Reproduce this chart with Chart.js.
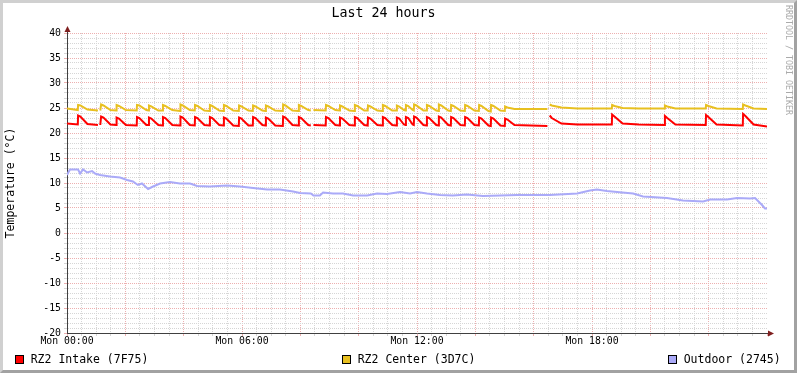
<!DOCTYPE html>
<html>
<head>
<meta charset="utf-8">
<script src="https://cdn.jsdelivr.net/npm/chart.js@4.4.0/dist/chart.umd.min.js"></script>
<style>
html,body{margin:0;padding:0;background:#fff;}
#wrap{position:relative;width:797px;height:373px;overflow:hidden;background:#fff;}
canvas{position:absolute;left:0;top:0;}
#frame{position:absolute;left:0;top:0;width:797px;height:373px;box-sizing:border-box;border-top:3px solid #d0d0d0;border-left:3px solid #d0d0d0;border-right:3px solid #a2a2a2;border-bottom:3px solid #a2a2a2;pointer-events:none;}
.leg{position:absolute;top:352px;font-family:'DejaVu Sans Mono',monospace;font-size:11.5px;line-height:14px;color:#000;white-space:pre;padding-left:15.7px;}
.leg i{position:absolute;left:0;top:3px;width:7px;height:7px;border:1px solid #000;}
#wm{position:absolute;left:783.5px;top:5px;font-family:'DejaVu Sans Mono',monospace;font-size:8.3px;line-height:9px;color:#aaa;writing-mode:vertical-rl;white-space:pre;}
</style>
</head>
<body>
<div id="wrap">
<canvas id="c" width="797" height="373"></canvas>
<div id="frame"></div>
<div class="leg" style="left:15px"><i style="background:#FF0000"></i>RZ2 Intake (7F75)</div>
<div class="leg" style="left:342px"><i style="background:#E8C020"></i>RZ2 Center (3D7C)</div>
<div class="leg" style="left:668px"><i style="background:#AAAAF8"></i>Outdoor (2745)</div>
<div id="wm">RRDTOOL / TOBI OETIKER</div>
</div>
<script>
// ---- data (hours since Mon 00:00) ----
const xTickHours = [0, 6, 12, 18];
const xTickLabels = ['Mon 00:00', 'Mon 06:00', 'Mon 12:00', 'Mon 18:00'];
const yTickLabels = [-20, -15, -10, -5, 0, 5, 10, 15, 20, 25, 30, 35, 40];

const indoorTime = [
0.00,
0.37,0.38,0.46,0.70,
1.06,1.10,1.14,
1.17,1.25,1.49,
1.69,1.70,1.78,2.02,
2.39,2.40,2.48,2.72,
2.80,2.81,2.89,3.13,
3.28,3.29,3.37,3.61,
3.88,3.89,3.97,4.21,
4.38,4.39,4.47,4.71,
4.89,4.90,4.98,5.22,
5.37,5.38,5.46,5.70,
5.89,5.90,5.98,6.22,
6.37,6.38,6.46,6.70,
6.81,6.82,6.90,7.14,
7.40,7.41,7.49,7.73,
7.94,7.95,8.03,8.27,
8.36,8.40,8.45,
8.87,8.88,8.96,9.20,
9.35,9.36,9.44,9.68,
9.86,9.87,9.95,10.19,
10.31,10.32,10.40,10.64,
10.82,10.83,10.91,11.15,
11.30,11.31,11.39,11.55,
11.61,11.62,11.70,11.85,
11.89,11.90,11.98,12.22,
12.33,12.34,12.42,12.66,
12.74,12.75,12.83,13.07,
13.16,13.17,13.25,13.49,
13.64,13.65,13.73,13.97,
14.12,14.13,14.21,14.45,
14.53,14.54,14.62,14.86,
15.01,15.02,15.10,15.34,
15.90,16.47,16.51,
16.55,16.62,16.95,17.50,
18.68,18.69,18.77,19.05,19.60,
20.49,20.50,20.58,20.86,
21.90,21.91,21.99,22.27,
23.17,23.18,23.26,23.54,24.00
];

const intakeTemp = [
21.9,
21.7,23.5,23.3,21.8,
21.6,null,21.6,
23.3,23.1,21.7,
21.6,23.1,22.9,21.6,
21.5,23.2,23.0,21.6,
21.6,23.1,22.9,21.6,
21.5,23.2,23.0,21.6,
21.5,23.3,23.1,21.6,
21.5,23.2,23.0,21.6,
21.5,23.2,23.0,21.6,
21.5,23.1,22.9,21.5,
21.4,23.1,22.9,21.5,
21.5,23.2,23.0,21.6,
21.5,23.1,22.9,21.5,
21.4,23.3,23.1,21.6,
21.5,23.2,23.0,21.6,
21.5,null,21.6,
21.5,23.2,23.0,21.6,
21.5,23.1,22.9,21.6,
21.5,23.2,23.0,21.6,
21.5,23.1,22.9,21.6,
21.5,23.2,23.0,21.6,
21.5,23.1,22.9,21.7,
21.6,23.2,23.0,21.7,
21.6,23.3,23.1,21.6,
21.5,23.2,23.0,21.6,
21.5,23.3,23.1,21.6,
21.5,23.2,23.0,21.6,
21.5,23.2,23.0,21.6,
21.5,23.1,22.9,21.5,
21.4,23.1,22.9,21.5,
21.4,22.9,22.7,21.6,
21.5,21.4,null,
23.5,23.0,21.9,21.7,
21.7,23.7,23.3,21.9,21.7,
21.6,23.4,23.0,21.7,
21.6,23.6,23.2,21.7,
21.5,23.8,23.4,21.7,21.3
];

const centerTemp = [
24.9,
24.6,25.6,25.5,24.7,
24.5,null,24.5,
25.7,25.5,24.6,
24.5,25.6,25.4,24.6,
24.5,25.6,25.5,24.6,
24.5,25.5,25.3,24.5,
24.5,25.6,25.4,24.6,
24.4,25.7,25.5,24.6,
24.5,25.6,25.4,24.5,
24.4,25.6,25.4,24.5,
24.4,25.6,25.4,24.5,
24.4,25.5,25.3,24.5,
24.4,25.5,25.3,24.5,
24.4,25.5,25.3,24.5,
24.4,25.7,25.5,24.5,
24.4,25.6,25.4,24.6,
24.5,null,24.6,
24.5,25.6,25.4,24.6,
24.5,25.5,25.3,24.5,
24.4,25.6,25.4,24.5,
24.5,25.5,25.3,24.5,
24.4,25.6,25.4,24.5,
24.5,25.5,25.3,24.6,
24.5,25.6,25.4,24.6,
24.5,25.7,25.5,24.5,
24.5,25.6,25.4,24.5,
24.4,25.7,25.5,24.5,
24.4,25.6,25.4,24.5,
24.4,25.6,25.4,24.5,
24.4,25.6,25.4,24.4,
24.3,25.6,25.4,24.5,
24.4,25.3,25.1,24.8,
24.8,24.8,null,
25.7,25.5,25.1,24.9,
24.9,25.6,25.4,25.0,24.9,
24.9,25.5,25.3,24.9,
24.9,25.6,25.4,24.9,
24.8,25.7,25.5,24.9,24.8
];

const outdoorTime = [0.00,0.10,0.38,0.45,0.55,0.69,0.86,0.96,1.13,1.47,1.82,2.06,2.26,2.43,2.57,2.78,2.95,3.19,3.53,3.87,4.22,4.46,4.90,5.49,5.93,6.38,6.86,7.30,7.75,7.99,8.36,8.45,8.67,8.78,9.12,9.46,9.81,10.29,10.63,10.97,11.42,11.76,12.00,12.34,12.79,13.23,13.71,14.26,15.43,16.56,17.49,17.93,18.17,18.51,18.86,19.41,19.75,20.57,21.12,21.81,22.05,22.63,22.97,23.42,23.59,23.83,23.93,24.00];
const outdoorTemp = [11.6,12.7,12.7,11.9,12.7,12.1,12.4,11.9,11.6,11.3,11.1,10.6,10.3,9.6,9.9,8.8,9.3,9.9,10.2,9.9,9.9,9.4,9.3,9.5,9.3,9.0,8.7,8.7,8.3,8.0,7.9,7.5,7.5,8.1,7.9,7.9,7.5,7.5,7.9,7.8,8.2,7.9,8.2,7.9,7.6,7.5,7.7,7.4,7.6,7.6,7.9,8.5,8.7,8.4,8.2,7.9,7.3,7.0,6.5,6.3,6.7,6.7,7.0,6.9,7.0,5.6,4.9,4.9];

// ---- chart ----
const MONO = "'DejaVu Sans Mono', monospace";
const MAJOR = '#EDB0B0';
const MINOR = '#D6D6D6';
const pts = (t, v) => t.map((x, i) => ({x: x, y: v[i]}));

const isMult = (v, m) => Math.abs(v / m - Math.round(v / m)) < 1e-6;

const arrows = {
  id: 'arrows',
  afterDraw(chart) {
    const {ctx, chartArea: a} = chart;
    const by = Math.round(a.bottom) + 0.5;
    const lx = Math.round(a.left) + 0.5;
    ctx.save();
    ctx.strokeStyle = '#404040';
    ctx.lineWidth = 1;
    ctx.beginPath();
    ctx.moveTo(a.right, by); ctx.lineTo(a.right + 4, by);
    ctx.moveTo(lx, a.top); ctx.lineTo(lx, a.top - 4);
    ctx.stroke();
    ctx.fillStyle = '#7F1F1F';
    ctx.beginPath();
    ctx.moveTo(a.right + 7, by); ctx.lineTo(a.right + 1, by - 3); ctx.lineTo(a.right + 1, by + 3); ctx.closePath();
    ctx.fill();
    ctx.beginPath();
    ctx.moveTo(lx, a.top - 7); ctx.lineTo(lx - 3, a.top - 1); ctx.lineTo(lx + 3, a.top - 1); ctx.closePath();
    ctx.fill();
    ctx.restore();
  }
};

const lineDs = (label, data, color, w) => ({
  label, data, borderColor: color, backgroundColor: color, borderWidth: w,
  pointRadius: 0, pointHoverRadius: 0, tension: 0, spanGaps: false, fill: false
});

new Chart(document.getElementById('c'), {
  type: 'line',
  data: {
    datasets: [
      lineDs('RZ2 Intake (7F75)', pts(indoorTime, intakeTemp), '#FF0000', 2),
      lineDs('RZ2 Center (3D7C)', pts(indoorTime, centerTemp), '#E8C020', 2),
      lineDs('Outdoor (2745)', pts(outdoorTime, outdoorTemp), '#AAAAF8', 2)
    ]
  },
  options: {
    responsive: false,
    animation: false,
    devicePixelRatio: 1,
    events: [],
    layout: {padding: {left: 0, right: 30, top: 0, bottom: 20}},
    plugins: {
      legend: {display: false},
      tooltip: {enabled: false},
      title: {
        display: true, text: 'Last 24 hours', color: '#000',
        font: {family: MONO, size: 13.3, weight: 'normal', lineHeight: '16px'},
        padding: {top: 6, bottom: 11}
      }
    },
    scales: {
      x: {
        type: 'linear', min: 0, max: 24,
        afterFit(s) { s.height = 20; },
        ticks: {
          stepSize: 0.5, autoSkip: false, maxRotation: 0, minRotation: 0, padding: 0,
          color: '#000', font: {family: MONO, size: 9.8},
          callback(v) {
            const i = xTickHours.findIndex(h => Math.abs(h - v) < 1e-6);
            return i >= 0 ? xTickLabels[i] : '';
          }
        },
        grid: {
          lineWidth: 1, tickLength: 3,
          color: c => (c.tick && c.tick.value >= 24) ? 'rgba(0,0,0,0)' : (c.tick && isMult(c.tick.value, 2) ? MAJOR : MINOR),
          tickColor: c => (c.tick && isMult(c.tick.value, 2) ? MAJOR : MINOR)
        },
        border: {color: '#404040', width: 1, dash: [1, 1]}
      },
      y: {
        min: -20, max: 40,
        afterFit(s) { s.width = 67; },
        ticks: {
          stepSize: 1, autoSkip: false, padding: 3,
          color: '#000', font: {family: MONO, size: 9.8},
          callback(v) { return yTickLabels.includes(v) ? String(v) : ''; }
        },
        grid: {
          lineWidth: 1, tickLength: 3,
          color: c => (c.tick && isMult(c.tick.value, 5) ? MAJOR : MINOR),
          tickColor: c => (c.tick && isMult(c.tick.value, 5) ? MAJOR : MINOR)
        },
        border: {color: '#404040', width: 1, dash: [1, 1]},
        title: {
          display: true, text: 'Temperature (°C)', color: '#000',
          font: {family: MONO, size: 11.5, weight: 'normal'},
          padding: {top: 4, bottom: 0}
        }
      }
    }
  },
  plugins: [arrows]
});
</script>
</body>
</html>
